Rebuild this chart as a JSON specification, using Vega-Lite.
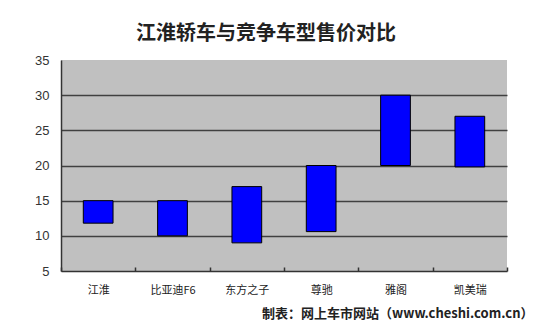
{
  "$schema": "https://vega.github.io/schema/vega-lite/v6.json",
  "width": 446,
  "height": 211,
  "autosize": {"type": "none"},
  "padding": {"left": 61, "top": 60, "right": 43, "bottom": 56},
  "background": "#ffffff",
  "title": {
    "text": "江淮轿车与竞争车型售价对比",
    "font": "Noto Sans CJK SC",
    "fontSize": 20,
    "fontWeight": "bold",
    "color": "#222222",
    "anchor": "middle",
    "dx": -18,
    "offset": 10
  },
  "config": {
    "view": {"fill": "#c0c0c0", "stroke": null}
  },
  "data": {
    "values": [
      {"car": "江淮", "low": 11.8, "high": 15},
      {"car": "比亚迪F6", "low": 10, "high": 15},
      {"car": "东方之子", "low": 9, "high": 17},
      {"car": "尊驰", "low": 10.6, "high": 20},
      {"car": "雅阁", "low": 20, "high": 30},
      {"car": "凯美瑞", "low": 19.8, "high": 27}
    ]
  },
  "mark": {"type": "bar", "width": {"band": 0.4}, "color": "#0000ff", "stroke": "#000000", "strokeWidth": 1},
  "encoding": {
    "x": {
      "field": "car",
      "type": "nominal",
      "sort": null,
      "scale": {"paddingInner": 0, "paddingOuter": 0},
      "axis": {
        "title": "制表：网上车市网站（www.cheshi.com.cn）",
        "titleFont": "Noto Sans CJK SC",
        "titleFontSize": 13,
        "titleFontWeight": "bold",
        "titleColor": "#222222",
        "titleAlign": "right",
        "titleBaseline": "middle",
        "titleAnchor": null,
        "titleX": 472,
        "titleY": 42,
        "labelAngle": 0,
        "labelFont": "Noto Sans CJK SC",
        "labelFontSize": 11,
        "labelColor": "#222222",
        "labelPadding": 17,
        "tickBand": "extent",
        "tickSize": -4,
        "tickColor": "#333333",
        "tickWidth": 1.5,
        "domainColor": "#333333",
        "domainWidth": 1.5
      }
    },
    "y": {
      "field": "low",
      "type": "quantitative",
      "scale": {"domain": [5, 35], "nice": false, "zero": false},
      "axis": {
        "title": null,
        "values": [5, 10, 15, 20, 25, 30, 35],
        "labelFont": "Liberation Sans",
        "labelFontSize": 13,
        "labelColor": "#333333",
        "labelPadding": 12,
        "ticks": false,
        "grid": true,
        "gridColor": {"condition": {"test": "datum.value === 35 || datum.value === 5", "value": "transparent"}, "value": "#404040"},
        "gridWidth": 1.5,
        "domainColor": "#333333",
        "domainWidth": 1.5
      }
    },
    "y2": {"field": "high"}
  }
}
